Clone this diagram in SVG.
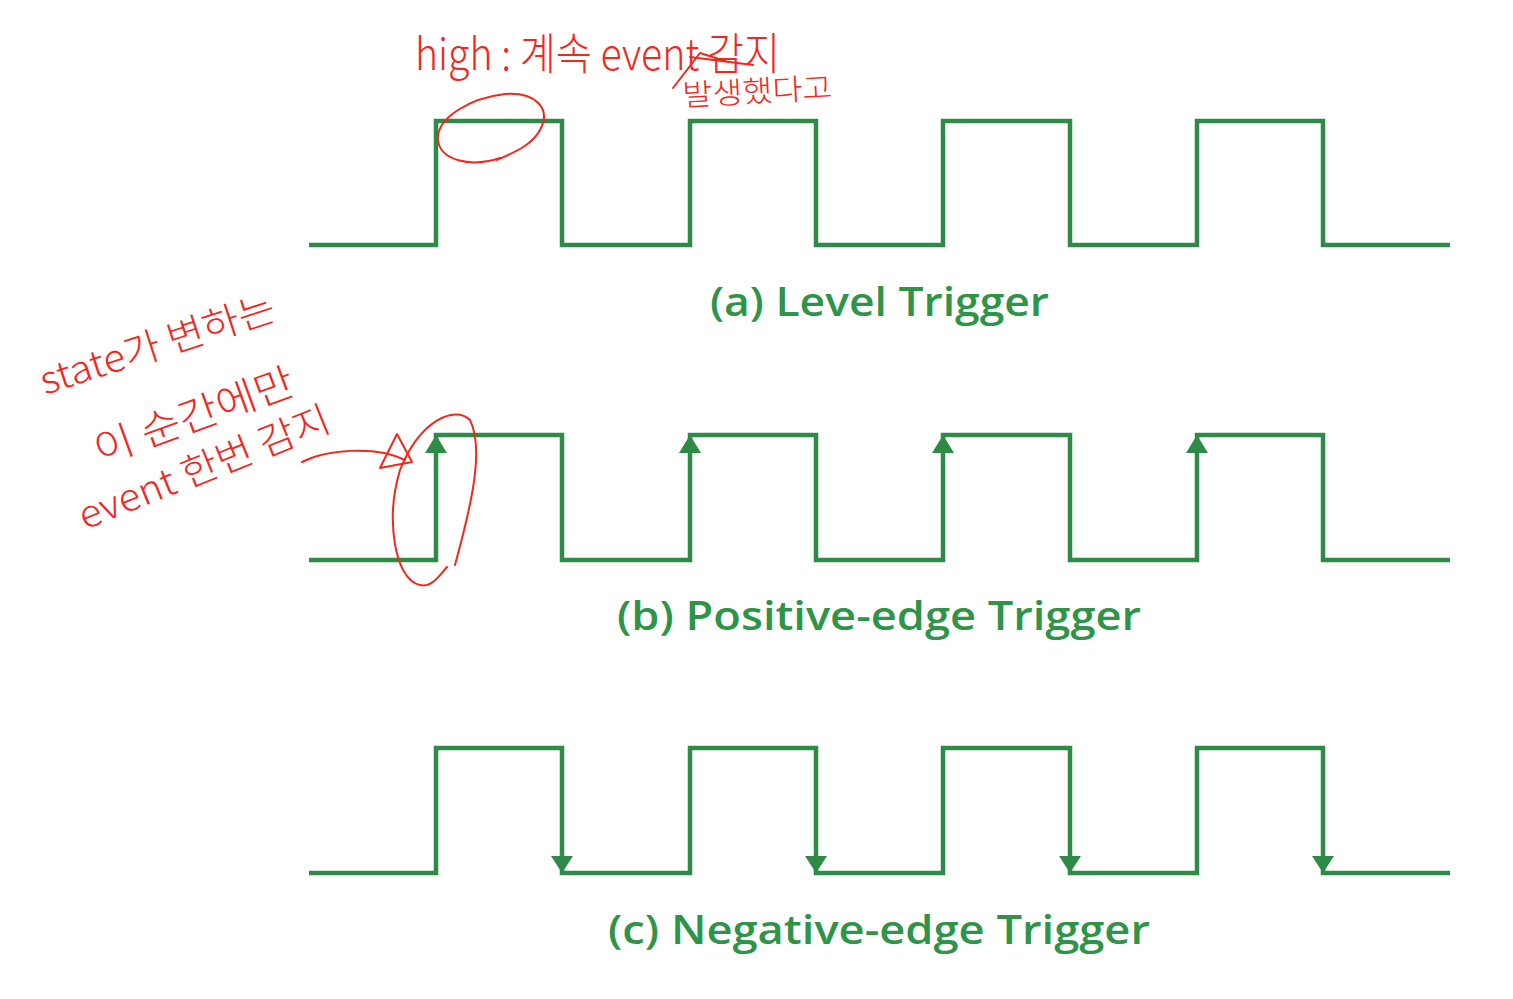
<svg xmlns="http://www.w3.org/2000/svg" width="1513" height="999" viewBox="0 0 1513 999">
<style>
.wave{fill:none;stroke:#2e8b47;stroke-width:4.5;stroke-linejoin:miter}
.head{fill:#2e8b47}
.lbl{font-family:"Open Sans","Liberation Sans",sans-serif;font-weight:600;font-size:39px;fill:#2e9447;text-anchor:start}
.red{fill:none;stroke:#f0281e;stroke-width:2;stroke-linecap:round;stroke-linejoin:round}
.hw{font-family:"Noto Sans CJK KR","Noto Sans",sans-serif;font-weight:300;fill:#f0281e}
</style>
<rect width="1513" height="999" fill="#ffffff"/>
<g id="wave-a">
<path class="wave" d="M309 245 H436 V121 H562 V245 H690 V121 H816 V245 H943 V121 H1070 V245 H1197 V121 H1323 V245 H1450"/>
</g>
<g id="label-a"><text class="lbl" x="710" y="316" textLength="339" lengthAdjust="spacingAndGlyphs">(a) Level Trigger</text></g>
<g id="wave-b">
<path class="wave" d="M309 560 H436 V435 H562 V560 H690 V435 H816 V560 H943 V435 H1070 V560 H1197 V435 H1323 V560 H1450"/>
<path class="head" d="M436 435 L425 453 H447 Z M690 435 L679 453 H701 Z M943 435 L932 453 H954 Z M1197 435 L1186 453 H1208 Z"/>
</g>
<g id="label-b"><text class="lbl" x="617" y="630" textLength="524" lengthAdjust="spacingAndGlyphs">(b) Positive-edge Trigger</text></g>
<g id="wave-c">
<path class="wave" d="M309 873 H436 V748 H562 V873 H690 V748 H816 V873 H943 V748 H1070 V873 H1197 V748 H1323 V873 H1450"/>
<path class="head" d="M562 873 L551 856 H573 Z M816 873 L805 856 H827 Z M1070 873 L1059 856 H1081 Z M1323 873 L1312 856 H1334 Z"/>
</g>
<g id="label-c"><text class="lbl" x="608" y="944" textLength="542" lengthAdjust="spacingAndGlyphs">(c) Negative-edge Trigger</text></g>
<g id="annotations">
<text class="hw" font-size="44" x="415" y="70" textLength="365" lengthAdjust="spacingAndGlyphs">high : 계속 event 감지</text>
<text class="hw" font-size="30" x="683" y="106" textLength="150" lengthAdjust="spacingAndGlyphs" transform="rotate(-3 683 106)">발생했다고</text>
<path class="red" d="M673 88 L700 53 L728 62 M690 57 L753 65"/>
<path class="red" d="M500 158 C470 168 440 160 438 140 C436 118 470 98 505 94 C535 92 552 108 540 130 C532 145 515 152 497 160"/>
<text class="hw" font-size="38" transform="translate(45 395) rotate(-18)" textLength="245" lengthAdjust="spacingAndGlyphs">state가 변하는</text>
<text class="hw" font-size="40" transform="translate(100 465) rotate(-20)" textLength="210" lengthAdjust="spacingAndGlyphs">이 순간에만</text>
<text class="hw" font-size="38" transform="translate(85 530) rotate(-22)" textLength="268" lengthAdjust="spacingAndGlyphs">event 한번 감지</text>
<path class="red" d="M302 462 C325 450 375 445 405 460"/>
<path class="red" d="M397 434 L380 468 L412 462 Z"/>
<path class="red" d="M455 565 C470 510 485 450 470 420 C455 405 420 420 400 470 C385 520 395 580 420 585 C432 588 440 575 447 567"/>
</g>
</svg>
